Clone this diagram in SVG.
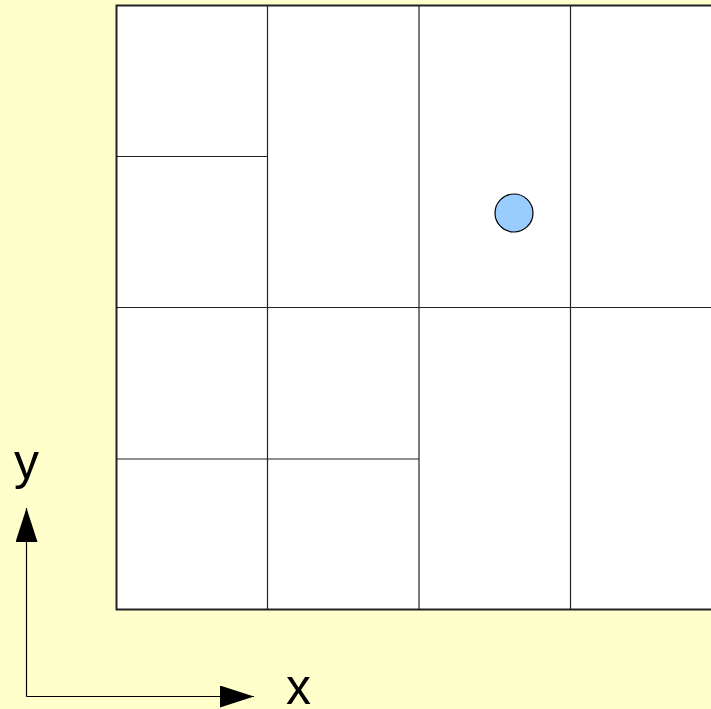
<svg xmlns="http://www.w3.org/2000/svg" width="711" height="709" viewBox="0 0 711 709">
<defs>
<style>
.grid{stroke:#222;stroke-width:1.2;fill:none}
.ax{stroke:#000;stroke-width:1.2;fill:none}
.lbl{font-family:"Liberation Sans",Arial,sans-serif;font-size:50px;fill:#000}
</style>
<marker id="ah" viewBox="0 0 34 22" refX="34" refY="11" markerWidth="34" markerHeight="22" markerUnits="userSpaceOnUse" orient="auto">
<path d="M0,0 L34,11 L0,22 Z" fill="#000"/>
</marker>
</defs>
<rect width="711" height="709" fill="#ffffcc"/>
<g id="grid">
<rect x="116.5" y="5.5" width="606" height="604" fill="#fff" stroke="#222" stroke-width="2"/>
<line class="grid" x1="267.5" y1="5.5" x2="267.5" y2="609.5"/>
<line class="grid" x1="419" y1="5.5" x2="419" y2="609.5"/>
<line class="grid" x1="570.5" y1="5.5" x2="570.5" y2="609.5"/>
<line class="grid" x1="116.5" y1="307.5" x2="711" y2="307.5"/>
<line class="grid" x1="116.5" y1="156.5" x2="267.5" y2="156.5"/>
<line class="grid" x1="116.5" y1="459" x2="419" y2="459"/>
</g>
<g id="point">
<circle cx="514" cy="213" r="19" fill="#99ccff" stroke="#000" stroke-width="1.2"/>
</g>
<g id="axes">
<path class="ax" d="M26.5,696.5 L26.5,508" marker-end="url(#ah)"/>
<path class="ax" d="M26.5,696.5 L254,696.5" marker-end="url(#ah)"/>
</g>
<text class="lbl" x="14" y="479">y</text>
<text class="lbl" x="286" y="704">x</text>
</svg>
